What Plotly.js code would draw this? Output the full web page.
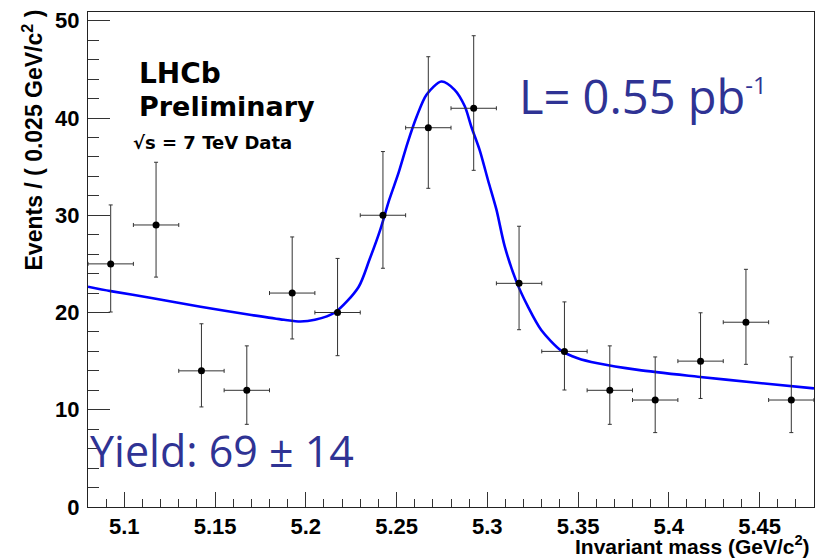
<!DOCTYPE html>
<html>
<head>
<meta charset="utf-8">
<script src="https://cdn.plot.ly/plotly-3.0.1.min.js"></script>
<style>html,body{margin:0;padding:0;background:#fff;}#chart{width:815px;height:558px;}</style>
</head>
<body>
<div id="chart"></div>
<script>
// Binned data (bin width 0.025 GeV/c^2)
var massCenters = [5.0925, 5.1175, 5.1425, 5.1675, 5.1925, 5.2175, 5.2425, 5.2675, 5.2925, 5.3175, 5.3425, 5.3675, 5.3925, 5.4175, 5.4425, 5.4675];
var events      = [25, 29, 14, 12, 22, 20, 30, 39, 41, 23, 16, 12, 11, 15, 19, 11];
var errUp       = [6.06, 6.45, 4.84, 4.57, 5.77, 5.56, 6.55, 7.30, 7.46, 5.87, 5.09, 4.57, 4.43, 4.97, 5.44, 4.43];
var errDown     = [4.95, 5.36, 3.71, 3.50, 4.72, 4.44, 5.45, 6.23, 6.38, 4.77, 3.97, 3.50, 3.35, 3.84, 4.33, 3.35];
var halfBin     = 0.0125;

// Fit curve
var fitMass   = [5.080, 5.0925, 5.115, 5.142, 5.170, 5.188, 5.197, 5.205, 5.216, 5.229, 5.235, 5.241, 5.246, 5.251, 5.256, 5.261, 5.2665, 5.2747, 5.282, 5.2876, 5.2912, 5.2958, 5.3004, 5.305, 5.3096, 5.316, 5.3224, 5.3297, 5.3407, 5.3498, 5.3608, 5.383, 5.416, 5.447, 5.480];
var fitEvents = [22.65, 22.2, 21.5, 20.6, 19.75, 19.25, 19.07, 19.25, 20.0, 22.6, 25.4, 28.5, 31.6, 34.3, 37.4, 40.1, 42.4, 43.75, 42.9, 41.2, 39.1, 36.7, 33.6, 30.6, 26.8, 23.2, 20.6, 18.2, 16.08, 15.3, 14.78, 14.1, 13.4, 12.8, 12.2];

var xTickVals = [5.1, 5.15, 5.2, 5.25, 5.3, 5.35, 5.4, 5.45];
var xTickText = ['5.1', '5.15', '5.2', '5.25', '5.3', '5.35', '5.4', '5.45'];
var yTickVals = [0, 10, 20, 30, 40, 50];
var yTickText = ['0', '10', '20', '30', '40', '50'];

var W = 815, H = 558, L = 88, R = 1, T = 12, B = 51;
var pw = W - L - R, ph = H - T - B;
function px(x) { return (x - L) / pw; }
function py(y) { return (H - B - y) / ph; }
function bold(a) { return a.map(function (s) { return '<b>' + s + '</b>'; }); }

var tickFont = {family: 'Liberation Sans, Arial, sans-serif', size: 22, color: '#000'};
var blue = '#2f3394';

var traces = [
  {
    x: fitMass, y: fitEvents, type: 'scatter', mode: 'lines',
    line: {color: '#0000ff', width: 2.6, shape: 'spline', smoothing: 0.8},
    hoverinfo: 'skip', showlegend: false
  },
  {
    x: massCenters, y: events, type: 'scatter', mode: 'markers',
    marker: {color: '#000', size: 7},
    error_y: {type: 'data', symmetric: false, array: errUp, arrayminus: errDown, color: '#333', thickness: 1, width: 2},
    error_x: {type: 'constant', value: halfBin, color: '#333', thickness: 1, width: 2},
    showlegend: false
  }
];

var layout = {
  width: W, height: H,
  margin: {l: L, r: R, t: T, b: B, pad: 0},
  paper_bgcolor: '#fff', plot_bgcolor: '#fff',
  showlegend: false,
  xaxis: {
    range: [5.08, 5.48], showgrid: false, zeroline: false,
    showline: true, linecolor: '#222', linewidth: 1, mirror: true,
    ticks: 'inside', ticklen: 15, tickcolor: '#333', tickwidth: 1,
    tickvals: xTickVals, ticktext: bold(xTickText), tickfont: tickFont, ticklabelstandoff: 0,
    minor: {ticks: 'inside', dtick: 0.01, tick0: 5.08, ticklen: 8, tickcolor: '#333', showgrid: false}
  },
  yaxis: {
    range: [0, 50.9], showgrid: false, zeroline: false,
    showline: true, linecolor: '#222', linewidth: 1, mirror: true,
    ticks: 'inside', ticklen: 22, tickcolor: '#333', tickwidth: 1,
    tickvals: yTickVals, ticktext: bold(yTickText), tickfont: tickFont, ticklabelstandoff: 3,
    minor: {ticks: 'inside', dtick: 2, ticklen: 11, tickcolor: '#333', showgrid: false}
  },
  annotations: [
    {xref: 'paper', yref: 'paper', x: px(137), y: py(73), xanchor: 'left', yanchor: 'middle', showarrow: false,
     text: '<b>LHCb</b>', font: {family: 'DejaVu Sans', size: 28, color: '#000'}},
    {xref: 'paper', yref: 'paper', x: px(137), y: py(106), xanchor: 'left', yanchor: 'middle', showarrow: false,
     text: '<b>Preliminary</b>', font: {family: 'DejaVu Sans', size: 27, color: '#000'}},
    {xref: 'paper', yref: 'paper', x: px(131), y: py(142), xanchor: 'left', yanchor: 'middle', showarrow: false,
     text: '<b>√s = 7 TeV Data</b>', font: {family: 'DejaVu Sans', size: 18, color: '#000'}},
    {xref: 'paper', yref: 'paper', x: px(517), y: py(96), xanchor: 'left', yanchor: 'middle', showarrow: false,
     text: 'L= 0.55 pb<sup><span style="font-size:24px">-1</span></sup>', font: {family: 'Open Sans', size: 47, color: blue}},
    {xref: 'paper', yref: 'paper', x: px(88), y: py(450), xanchor: 'left', yanchor: 'middle', showarrow: false,
     text: 'Yield: 69 ± 14', font: {family: 'Open Sans', size: 43, color: blue}},
    {xref: 'paper', yref: 'paper', x: px(812), y: py(545), xanchor: 'right', yanchor: 'middle', showarrow: false,
     text: '<b>Invariant mass (GeV/c<sup>2</sup>)</b>', font: {family: 'Liberation Sans, Arial, sans-serif', size: 21, color: '#000'}},
    {xref: 'paper', yref: 'paper', x: px(33), y: py(8), xanchor: 'center', yanchor: 'top', showarrow: false, textangle: -90,
     text: '<b>Events / ( 0.025 GeV/c<sup>2</sup> )</b>', font: {family: 'Liberation Sans, Arial, sans-serif', size: 23, color: '#000'}}
  ]
};

Plotly.newPlot('chart', traces, layout, {displayModeBar: false, staticPlot: true});
</script>
</body>
</html>
